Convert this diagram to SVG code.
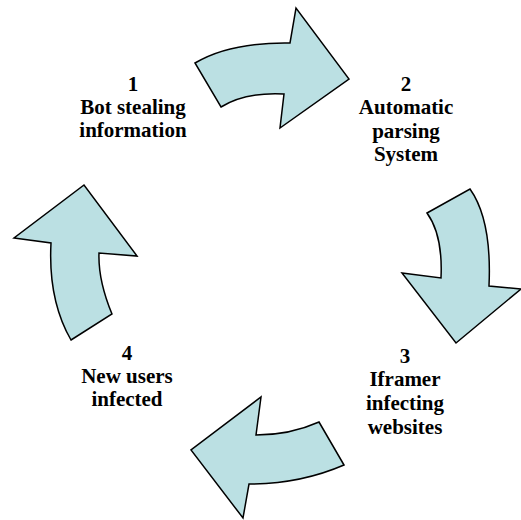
<svg xmlns="http://www.w3.org/2000/svg" width="521" height="520" viewBox="0 0 521 520">
<rect width="521" height="520" fill="#fff"/>
<g id="connectors" fill="#bbe0e3" stroke="#000" stroke-width="1.5" stroke-linejoin="miter">
<path id="arrow1" d="M195,63 Q230,42 290,43 L296,8 L349,79 L280,128 L284,94 Q245,92 221,107 Z"/>
<path id="arrow2" d="M427,213 L470,189 Q492,220 489,286 L521,289 L456,343 L402,273 L441,278 Q443,235 427,213 Z"/>
<path id="arrow3" d="M319,422 L344,465 Q300,484 249,484 L243,518 L191,450 L261,397 L256,435 Q290,435 319,422 Z"/>
<path id="arrow4" d="M71,340 L112,314 Q98,280 99,253 L137,256 L84,185 L14,238 L51,243 Q48,300 71,340 Z"/>
</g>
<g id="node1"><text font-family="Times New Roman" font-size="21px" font-weight="700" x="127.8" y="91">1</text><text font-family="Times New Roman" font-size="21px" font-weight="700" x="80.2" y="114">Bot stealing</text><text font-family="Times New Roman" font-size="21px" font-weight="700" x="79.3" y="137">information</text></g>
<g id="node2"><text font-family="Times New Roman" font-size="21px" font-weight="700" x="400.8" y="91">2</text><text font-family="Times New Roman" font-size="21px" font-weight="700" x="358.8" y="114">Automatic</text><text font-family="Times New Roman" font-size="21px" font-weight="700" x="372.2" y="138">parsing</text><text font-family="Times New Roman" font-size="21px" font-weight="700" x="373.9" y="161">System</text></g>
<g id="node3"><text font-family="Times New Roman" font-size="21px" font-weight="700" x="399.8" y="363">3</text><text font-family="Times New Roman" font-size="21px" font-weight="700" x="369.4" y="386">Iframer</text><text font-family="Times New Roman" font-size="21px" font-weight="700" x="365.9" y="410">infecting</text><text font-family="Times New Roman" font-size="21px" font-weight="700" x="367.7" y="434">websites</text></g>
<g id="node4"><text font-family="Times New Roman" font-size="21px" font-weight="700" x="121.8" y="360">4</text><text font-family="Times New Roman" font-size="21px" font-weight="700" x="81.2" y="383">New users</text><text font-family="Times New Roman" font-size="21px" font-weight="700" x="91.4" y="406">infected</text></g>
</svg>
